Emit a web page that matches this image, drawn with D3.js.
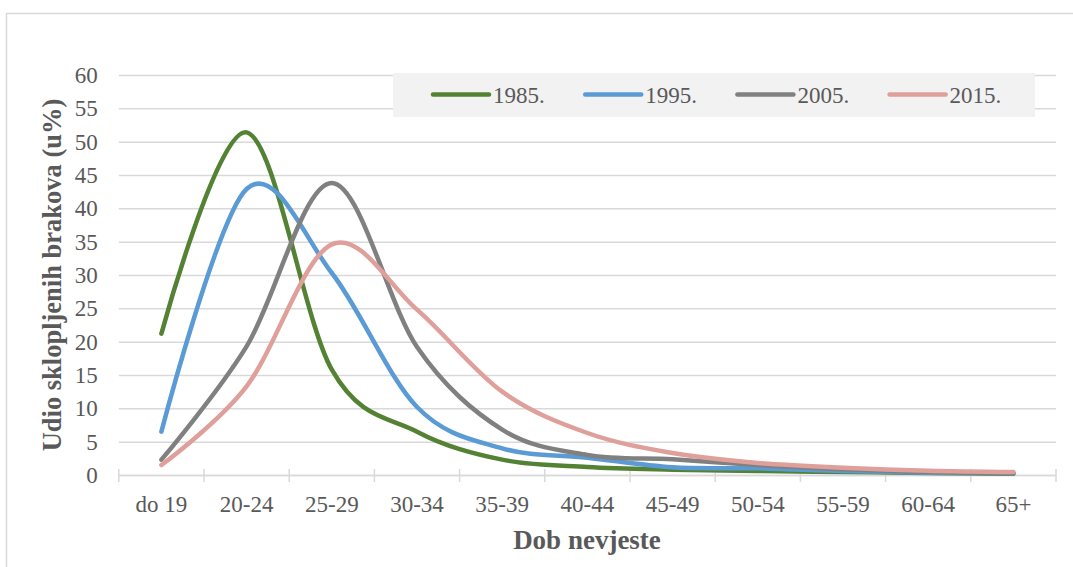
<!DOCTYPE html>
<html>
<head>
<meta charset="utf-8">
<script src="https://cdnjs.cloudflare.com/ajax/libs/d3/7.8.5/d3.min.js"></script>
<style>
body { margin:0; background:#fff; }
text { font-family: "Liberation Serif", "Times New Roman", serif; fill:#595959; }
</style>
</head>
<body>
<div id="chart"></div>
<script>

// dob nevjeste (age groups)
var ageGroups = ["do 19","20-24","25-29","30-34","35-39","40-44","45-49","50-54","55-59","60-64","65+"]
var years = ["1985.","1995.","2005.","2015."]

// udio sklopljenih brakova (u %)
var share1985 = [21.2, 51.4, 15.8, 6.5, 2.3, 1.2, 0.8, 0.6, 0.45, 0.3, 0.2]
var share1995 = [6.5, 42.9, 30.3, 10.2, 4.0, 2.6, 1.15, 1.0, 0.6, 0.35, 0.25]
var share2005 = [2.3, 19.3, 43.8, 19.2, 6.8, 3.0, 2.35, 1.5, 0.85, 0.45, 0.3]
var share2015 = [1.5, 13.3, 34.6, 24.8, 12.5, 6.3, 3.3, 1.8, 1.1, 0.65, 0.45]

var yTicks = [0,5,10,15,20,25,30,35,40,45,50,55,60]

var seriesValues = [share1985, share1995, share2005, share2015]
var colors = ["#548235","#5b9bd5","#808080","#df9f9a"]

var W = 1073, H = 567
var svg = d3.select("#chart").append("svg").attr("width",W).attr("height",H)

// chart border
svg.append("rect").attr("x",6.5).attr("y",13.5).attr("width",1100).attr("height",600)
	.attr("fill","none").attr("stroke","#d9d9d9").attr("stroke-width",1.5)

var x = d3.scaleBand().domain(ageGroups).range([118.8,1056]).padding(0)
var y = d3.scaleLinear().domain([0,60]).range([475,75])

// grid + y labels
var yAxis = svg.append("g").attr("transform","translate(118.8,0)")
	.call(d3.axisLeft(y).tickValues(yTicks).tickSize(-(1056-118.8)).tickPadding(21))
yAxis.select(".domain").remove()
yAxis.selectAll("line").attr("stroke","#d9d9d9").attr("stroke-width",1.5)
yAxis.selectAll("text").attr("font-size","23px").attr("fill","#595959")
	.style("font-family",'"Liberation Serif", serif')

// x axis: labels at band centres, cross ticks on band edges
var xAxis = svg.append("g").attr("transform","translate(0,475)")
	.call(d3.axisBottom(x).tickSize(0).tickPadding(21))
xAxis.select(".domain").attr("stroke","#d9d9d9").attr("stroke-width",1.5)
xAxis.selectAll("text").attr("font-size","23px").attr("fill","#595959")
	.style("font-family",'"Liberation Serif", serif')

var edges = ageGroups.map(function(d){ return x(d) }).concat([x.range()[1]])
svg.append("g").selectAll("line").data(edges).enter().append("line")
	.attr("x1",function(d){ return d }).attr("x2",function(d){ return d })
	.attr("y1",469).attr("y2",482)
	.attr("stroke","#d9d9d9").attr("stroke-width",1.5)

// lines
var line = d3.line()
	.x(function(d,i){ return x(ageGroups[i]) + x.bandwidth()/2 })
	.y(function(d){ return y(d) })
	.curve(d3.curveCardinal.tension(0))

svg.append("g").selectAll("path").data(seriesValues).enter().append("path")
	.attr("d",line)
	.attr("fill","none")
	.attr("stroke",function(d,i){ return colors[i] })
	.attr("stroke-width",4.5)
	.attr("stroke-linecap","round")
	.attr("stroke-linejoin","round")

// legend
var legend = svg.append("g")
legend.append("rect").attr("x",393).attr("y",73).attr("width",642).attr("height",44).attr("fill","#f2f2f2")

var items = legend.selectAll("g.item").data(years).enter().append("g").attr("class","item")
	.attr("transform",function(d,i){ return "translate(" + (433 + i*152.2) + ",0)" })
items.append("line").attr("x1",0).attr("x2",56).attr("y1",94.5).attr("y2",94.5)
	.attr("stroke",function(d,i){ return colors[i] }).attr("stroke-width",4.5).attr("stroke-linecap","round")
items.append("text").attr("x",60).attr("y",102.5).attr("font-size","23px").text(function(d){ return d })

// axis titles
svg.append("text").attr("x",587).attr("y",549).attr("text-anchor","middle")
	.attr("font-size","27px").attr("font-weight","bold").text("Dob nevjeste")

svg.append("text").attr("transform","translate(61,275) rotate(-90)").attr("text-anchor","middle")
	.attr("font-size","26.5px").attr("font-weight","bold").text("Udio sklopljenih brakova (u%)")

</script>
</body>
</html>
